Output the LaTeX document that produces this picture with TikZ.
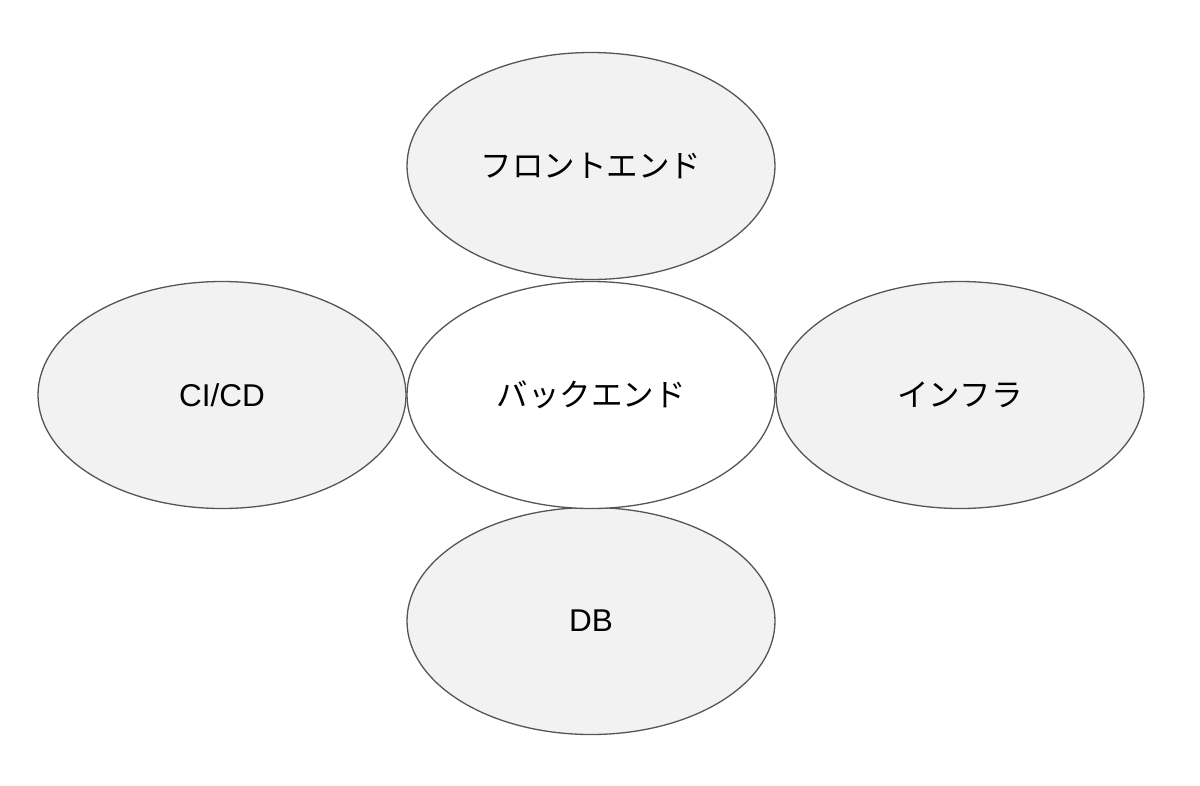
\documentclass[tikz,border=0pt]{standalone}
\usepackage{fontspec}
\setmainfont{Liberation Sans}
\newfontfamily\jpfont{Noto Sans CJK JP}
\usetikzlibrary{shapes.geometric}
\definecolor{ringfill}{HTML}{F2F2F2}
\definecolor{ringline}{HTML}{555555}

\begin{document}
\begin{tikzpicture}[x=1pt,y=-1pt,line cap=round,line join=round]

  \tikzset{
    area/.style={ellipse,draw=ringline,line width=1.3pt,fill=ringfill,
      minimum width=368pt,minimum height=227pt,inner sep=0pt,
      font=\fontsize{31.5}{31.5}\selectfont},
    core/.style={area,fill=white}
  }

  \useasboundingbox (0,0) rectangle (1200,785);

  \node[area] (front) at (591,166) {\jpfont フロントエンド};
  \node[area] (cicd) at (222,395) {CI/CD};
  \node[area] (infra) at (960,395) {\jpfont インフラ};
  \node[area] (db) at (591,621) {DB};
  \node[core] (back) at (591,395) {\jpfont バックエンド};

\end{tikzpicture}
\end{document}
